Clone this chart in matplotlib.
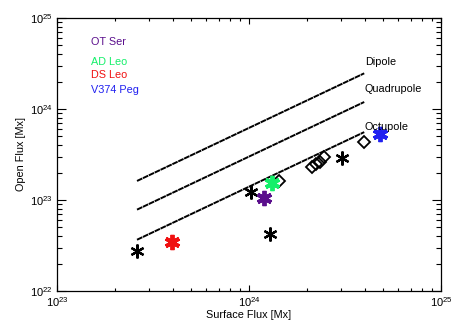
import matplotlib
matplotlib.use("Agg")
import matplotlib.pyplot as plt
import numpy as np

plt.rcParams['font.family'] = ['Liberation Sans', 'DejaVu Sans']
plt.rcParams['mathtext.fontset'] = 'custom'
plt.rcParams['mathtext.rm'] = 'Liberation Sans'
plt.rcParams['mathtext.default'] = 'regular'

# black asterisks (other stars)
star_surface = [2.61e23, 1.02e24, 1.29e24, 3.05e24]
star_open = [2.75e22, 1.23e23, 4.27e22, 2.88e23]

# open diamonds
diamond_surface = [1.43e24, 2.13e24, 2.23e24, 2.34e24, 2.46e24, 3.97e24]
diamond_open = [1.62e23, 2.29e23, 2.51e23, 2.63e23, 2.95e23, 4.37e23]

# highlighted stars
named = ["OT Ser", "AD Leo", "DS Leo", "V374 Peg"]
named_colors = ["#5a0e8c", "#14f06a", "#f01010", "#2020f0"]
named_surface = [1.20e24, 1.32e24, 3.98e23, 4.79e24]
named_open = [1.05e23, 1.55e23, 3.47e22, 5.37e23]

# multipole reference lines: open = factor * surface
line_surface = [2.61e23, 3.98e24]
line_names = ["Dipole", "Quadrupole", "Octupole"]
line_factors = [0.62, 0.30, 0.14]
line_label_y = [3.3e24, 1.66e24, 6.3e23]


def main():
    fig = plt.figure(figsize=(4.58, 3.28), dpi=100)
    ax = fig.add_axes([0.1245, 0.113, 0.8385, 0.832])

    xs = np.array(line_surface)
    for name, f, ly in zip(line_names, line_factors, line_label_y):
        ax.plot(xs, f * xs, color='black', lw=1.4, linestyle=(0, (3, 0.35)))
        ax.text(4.0e24, ly, name, fontsize=7.8, va='center', ha='left')

    ax.plot(diamond_surface, diamond_open, linestyle='none', marker='D',
            mfc='none', mec='black', mew=1.3, ms=6)
    ax.plot(star_surface, star_open, linestyle='none', marker=(6, 2, 0),
            color='black', mew=1.6, ms=10)
    for s, o, c in zip(named_surface, named_open, named_colors):
        ax.plot(s, o, linestyle='none', marker=(6, 2, 0), color=c,
                mew=2.8, ms=11)

    label_y = [5.5e24, 3.3e24, 2.35e24, 1.62e24]
    for name, c, y in zip(named, named_colors, label_y):
        ax.text(1.5e23, y, name, color=c, fontsize=7.8, va='center', ha='left')

    ax.set_xscale('log')
    ax.set_yscale('log')
    ax.set_xlim(1e23, 1e25)
    ax.set_ylim(1e22, 1e25)
    ax.set_xlabel("Surface Flux [Mx]", fontsize=7.8, labelpad=1)
    ax.set_ylabel("Open Flux [Mx]", fontsize=7.8, labelpad=3)

    ax.tick_params(which='both', direction='in', top=True, right=True,
                   labelsize=8, width=0.8)
    ax.tick_params(axis='x', which='major', length=4.5, pad=3)
    ax.tick_params(axis='x', which='minor', length=2.5)
    ax.tick_params(axis='y', which='major', length=6.5, pad=3)
    ax.tick_params(axis='y', which='minor', length=3.5)
    for sp in ax.spines.values():
        sp.set_linewidth(0.9)

    fig.savefig('out.png', dpi=100)


if __name__ == "__main__":
    main()
